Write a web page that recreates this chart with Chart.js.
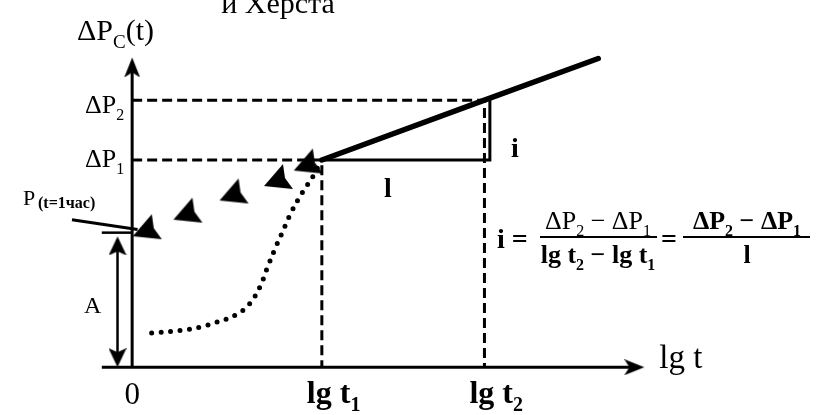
<!DOCTYPE html>
<html>
<head>
<meta charset="utf-8">
<script src="https://cdn.jsdelivr.net/npm/chart.js@4/dist/chart.umd.min.js"></script>
<style>
  html, body { margin: 0; padding: 0; background: #fff; }
  canvas { display: block; }
</style>
</head>
<body>
<canvas id="diagram" width="827" height="415"></canvas>
<script>
  // marks on the axes (units: lg t across, ΔP up)
  const lgT1 = 3.5, lgT2 = 6.5;
  const dP1 = 3.88, dP2 = 5.0;
  const pOneHour = 2.49;

  // early-time part of the curve, dotted
  const earlyX = [0.36, 0.89, 1.25, 1.55, 1.91, 2.16, 2.35, 2.49, 2.62, 2.75, 2.95, 3.14, 3.34, 3.48];
  const earlyY = [0.64, 0.69, 0.75, 0.84, 0.98, 1.18, 1.49, 1.85, 2.18, 2.48, 2.93, 3.27, 3.58, 3.85];

  // straight semilog line
  const lineX = [lgT1, lgT2, 8.6];
  const lineY = [dP1, dP2, 5.78];

  // measured points shown as arrow marks
  const markX = [0.27, 1.02, 1.87, 2.69, 3.24];
  const markY = [2.64, 2.95, 3.31, 3.58, 3.87];

  // slope triangle corner
  const triX = 6.6;

  // axis extents
  const xAxisFrom = -0.56, xAxisTo = 9.45, yAxisTo = 5.8;
  const aX = -0.27;                       // double arrow "A"
  const leadX = [-1.11, 0.1], leadY = [2.76, 2.58];

  const PX = 55, originX = 128, originY = 372;

  const pts = (xs, ys) => xs.map((x, i) => ({ x, y: ys[i] }));

  function arrowHead(w, len, notch) {
    // tip sits in the canvas centre so the point value is the tip
    const c = document.createElement('canvas');
    c.width = w; c.height = len * 2;
    const g = c.getContext('2d');
    g.fillStyle = '#000';
    g.beginPath();
    g.moveTo(w / 2, len);
    g.lineTo(w, len * 2);
    g.lineTo(w / 2, len * 2 - notch);
    g.lineTo(0, len * 2);
    g.closePath();
    g.fill();
    return c;
  }

  function sweptMark() {
    const c = document.createElement('canvas');
    c.width = 32; c.height = 28;
    const g = c.getContext('2d');
    g.fillStyle = '#000';
    g.beginPath();
    g.moveTo(21, 2);
    g.lineTo(2, 24);
    g.lineTo(31, 27);
    g.lineTo(23, 16);
    g.closePath();
    g.fill();
    return c;
  }

  const axisHead = arrowHead(16, 20, 5);
  const smallHead = arrowHead(18, 19, 4);
  const mark = sweptMark();

  const line = (data, extra) => Object.assign({
    data, showLine: true, fill: false,
    borderColor: '#000', backgroundColor: '#000',
    borderWidth: 3, pointRadius: 0
  }, extra);

  const head = (x, y, img, rot) => ({
    data: [{ x, y }], showLine: false,
    pointStyle: img, pointRotation: rot, pointRadius: 5
  });

  function rich(ctx, parts, x, y, size, weight, align) {
    const sub = Math.round(size * 0.62);
    const font = s => `${weight} ${s}px "Liberation Serif"`;
    let w = 0;
    parts.forEach(([t, s]) => { ctx.font = font(s ? sub : size); w += ctx.measureText(t).width; });
    let cx = align === 'center' ? x - w / 2 : align === 'right' ? x - w : x;
    parts.forEach(([t, s]) => {
      ctx.font = font(s ? sub : size);
      ctx.fillText(t, cx, s ? y + size * 0.25 : y);
      cx += ctx.measureText(t).width;
    });
    return w;
  }

  const labels = {
    id: 'labels',
    afterDatasetsDraw(chart) {
      const ctx = chart.ctx;
      const sx = v => chart.scales.x.getPixelForValue(v);
      const sy = v => chart.scales.y.getPixelForValue(v);
      ctx.save();
      ctx.fillStyle = '#000';
      ctx.textAlign = 'left';
      ctx.textBaseline = 'alphabetic';

      rich(ctx, [['и Херста']], 278, 13, 30, 'normal', 'center');
      rich(ctx, [['ΔP'], ['C', 1], ['(t)']], 77, 40, 30, 'normal', 'left');
      rich(ctx, [['ΔP'], ['2', 1]], sx(0) - 8, sy(dP2) + 13, 26, 'normal', 'right');
      rich(ctx, [['ΔP'], ['1', 1]], sx(0) - 8, sy(dP1) + 7, 26, 'normal', 'right');

      ctx.font = 'normal 22px "Liberation Serif"';
      ctx.fillText('P', 23, 205);
      ctx.font = 'bold 16px "Liberation Serif"';
      ctx.fillText('(t=1час)', 38, 208);

      ctx.font = 'normal 24px "Liberation Serif"';
      ctx.fillText('A', 84, 313);

      rich(ctx, [['0']], sx(0), 404, 31, 'normal', 'center');
      rich(ctx, [['lg t'], ['1', 1]], sx(lgT1) - 15, 403, 32, 'bold', 'left');
      rich(ctx, [['lg t'], ['2', 1]], sx(lgT2) - 15, 403, 32, 'bold', 'left');
      rich(ctx, [['lg t']], sx(xAxisTo) + 15, sy(0) + 1, 33, 'normal', 'left');

      rich(ctx, [['l']], 388, 197, 28, 'bold', 'center');
      rich(ctx, [['i']], 511, 157, 28, 'bold', 'left');

      // slope formula
      rich(ctx, [['i =']], 497, 248, 28, 'bold', 'left');
      rich(ctx, [['ΔP'], ['2', 1], [' − ΔP'], ['1', 1]], 598, 229, 26, 'normal', 'center');
      rich(ctx, [['lg t'], ['2', 1], [' − lg t'], ['1', 1]], 598, 263, 26, 'bold', 'center');
      ctx.fillRect(540, 236, 117, 2);
      rich(ctx, [['=']], 669, 248, 28, 'bold', 'center');
      rich(ctx, [['ΔP'], ['2', 1], [' − ΔP'], ['1', 1]], 747, 229, 26, 'bold', 'center');
      rich(ctx, [['l']], 747, 263, 26, 'bold', 'center');
      ctx.fillRect(683, 236, 127, 2);

      ctx.restore();
    }
  };

  const dash = [10, 5];

  new Chart(document.getElementById('diagram'), {
    type: 'scatter',
    data: {
      datasets: [
        // axes
        line([{ x: xAxisFrom, y: 0 }, { x: xAxisTo - 0.1, y: 0 }]),
        line([{ x: 0, y: 0 }, { x: 0, y: yAxisTo - 0.1 }]),
        head(0, yAxisTo, axisHead, 0),
        head(xAxisTo, 0, axisHead, 90),
        // A
        line([{ x: aX, y: 0.1 }, { x: aX, y: pOneHour - 0.1 }], { borderWidth: 2.5 }),
        line([{ x: xAxisFrom, y: pOneHour + 0.03 }, { x: 0, y: pOneHour + 0.03 }], { borderWidth: 2.5 }),
        head(aX, pOneHour - 0.04, smallHead, 0),
        head(aX, 0, smallHead, 180),
        line(pts(leadX, leadY), { borderWidth: 3 }),
        // reading lines
        line([{ x: 0, y: dP2 }, { x: lgT2, y: dP2 }, { x: lgT2, y: 0 }], { borderDash: dash }),
        line([{ x: 0, y: dP1 }, { x: lgT1, y: dP1 }, { x: lgT1, y: 0 }], { borderDash: dash }),
        // slope triangle
        line([{ x: lgT1, y: dP1 }, { x: triX, y: dP1 }, { x: triX, y: 5.04 }], { borderWidth: 3 }),
        // semilog straight line
        line(pts(lineX, lineY), { borderWidth: 5.5, borderCapStyle: 'round' }),
        // early-time dotted curve
        line(pts(earlyX, earlyY), {
          borderWidth: 5, borderDash: [0, 9.5], borderCapStyle: 'round',
          tension: 0.4
        }),
        // measured points
        { data: pts(markX, markY), showLine: false, pointStyle: mark, pointRadius: 5 }
      ]
    },
    options: {
      responsive: false,
      animation: false,
      devicePixelRatio: 1,
      layout: { padding: 0 },
      plugins: { legend: { display: false }, tooltip: { enabled: false }, title: { display: false } },
      scales: {
        x: { type: 'linear', display: false, min: -originX / PX, max: (827 - originX) / PX },
        y: { type: 'linear', display: false, min: -(415 - originY) / PX, max: originY / PX }
      }
    },
    plugins: [labels]
  });
</script>
</body>
</html>
